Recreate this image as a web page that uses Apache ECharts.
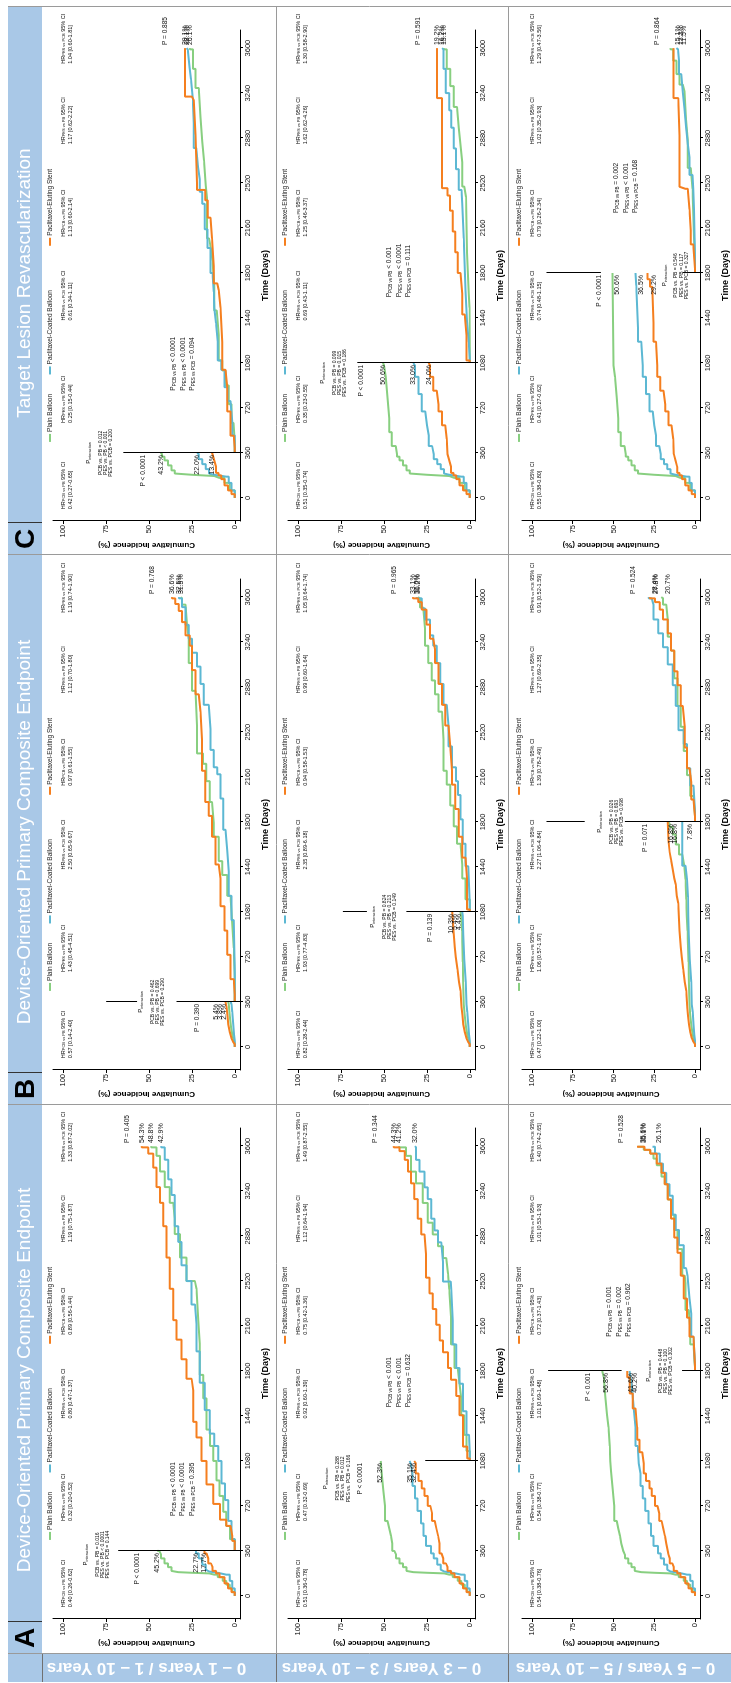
<!DOCTYPE html>
<html><head><meta charset="utf-8">
<script src="https://cdn.jsdelivr.net/npm/echarts@6/dist/echarts.min.js"></script>
<style>
html,body{margin:0;padding:0;background:#fff;overflow:hidden;width:731px;height:1683px;}
#chart{position:absolute;left:0;top:0;width:1683px;height:731px;transform-origin:0 0;transform:translate(0,1683px) rotate(-90deg);}
</style></head><body><div id="chart"></div>
<script>
// ---------------- DATA ----------------
const timeTicks = [0,360,720,1080,1440,1800,2160,2520,2880,3240,3600];
const incidenceTicks = [0,25,50,75,100];
const groups = ['Plain Balloon','Paclitaxel-Coated Balloon','Paclitaxel-Eluting Stent'];
const landmarks = [360,1080,1800];
const rowLabels = ['0 \u2013 1 Years / 1 \u2013 10 Years','0 \u2013 3 Years / 3 \u2013 10 Years','0 \u2013 5 Years / 5 \u2013 10 Years'];
const columnTitles = ['Device-Oriented Primary Composite Endpoint','Device-Oriented Primary Composite Endpoint','Target Lesion Revascularization'];
const panelLetters = ['A','B','C'];
const hrPairs = ['PCB vs PB','PES vs PB','PES vs PCB','PCB vs PB','PES vs PB','PES vs PCB'];
const pairNames = ['PCB vs PB','PES vs PB','PES vs PCB'];

// column A : early period (shared 0-1800)
const A_PB_early  = [[0,0],[30,1.5],[60,3],[90,5],[120,7],[150,10],[170,12],[180,15],[185,25],[190,33],[200,37],[230,39],[260,41],[300,43],[330,44],[360,45.2],[420,46],[480,47],[540,48],[600,49.5],[720,50.5],[850,51.5],[1000,52],[1080,52.3],[1200,53],[1350,54],[1450,55],[1600,56],[1750,56.8],[1800,56.8]];
const A_PCB_early = [[0,0],[60,1.5],[120,3],[170,5],[185,10],[195,15],[210,17],[250,19],[300,21],[340,22.7],[400,25.5],[480,27],[580,28.5],[680,30.5],[780,32],[880,33.5],[980,34.5],[1060,35.1],[1200,36.5],[1350,37.5],[1500,38.5],[1650,39.5],[1750,40.2],[1800,40.2]];
const A_PES_early = [[0,0],[30,2],[60,4],[100,6],[150,9],[180,11],[200,13],[230,14],[260,15.5],[300,16.5],[340,17.7],[420,18.5],[480,19.5],[540,20.5],[600,22],[660,23],[720,24.5],[800,26.5],[860,28],[920,30],[980,31.5],[1060,32.4],[1150,34],[1250,35.5],[1350,36.5],[1500,38.2],[1620,40],[1750,41.6],[1800,41.6]];
// column A : late periods
const A1_PB_late  = [[360,0],[454,2.9],[560,5],[673,6.8],[800,9],[924,10.7],[1080,12.6],[1200,14.5],[1331,16.5],[1581,18.4],[1769,20.4],[2019,21.4],[2207,22.3],[2458,23.3],[2520,28.2],[2708,32],[2896,35],[3021,35.9],[3146,37.9],[3272,40.8],[3397,43.7],[3522,45.6],[3590,48.8],[3600,48.8]];
const A1_PCB_late = [[360,0],[454,1.9],[600,3.8],[767,5.8],[900,7.8],[1080,9.7],[1200,12],[1299,14.6],[1487,17.5],[1706,20.4],[1957,22.3],[2176,23.3],[2332,25.2],[2520,28.2],[2646,31.1],[2833,33],[2959,35],[3209,36.9],[3334,38.8],[3491,40.8],[3590,42.9],[3600,42.9]];
const A1_PES_late = [[360,0],[440,1.5],[480,2.5],[560,5],[610,8.7],[736,12.6],[892,16.5],[1080,19.4],[1268,22.3],[1393,24.3],[1644,25.2],[1738,28.2],[1894,31.1],[2051,34],[2207,35.9],[2458,37.9],[2708,39.8],[2959,41.7],[3146,43.7],[3272,45.6],[3428,47.6],[3540,50.5],[3590,54.3],[3600,54.3]];
const A2_PB_late  = [[1080,0],[1160,2],[1289,3.3],[1446,5],[1580,6],[1698,7],[1824,9],[2013,11],[2233,12],[2453,12.7],[2579,13.7],[2704,15.7],[2799,18.6],[2893,21.6],[2987,24.5],[3145,27.5],[3302,31.4],[3396,34.3],[3522,37.2],[3590,41.2],[3600,41.2]];
const A2_PCB_late = [[1080,0],[1150,0.5],[1289,2],[1478,4],[1698,6],[1824,8],[2013,10],[2201,10.8],[2453,11.2],[2516,15.7],[2673,16.7],[2830,18.6],[2925,20.6],[3019,22.5],[3176,24.5],[3270,26.5],[3396,29.4],[3490,31.4],[3590,32.0],[3600,32.0]];
const A2_PES_late = [[1080,0],[1100,1.5],[1195,4],[1446,6],[1600,8],[1730,11],[1824,12.7],[1950,15.7],[2044,17.6],[2170,19.6],[2296,21.6],[2421,23.5],[2547,25.5],[2736,26.5],[2893,28.4],[3019,30.4],[3176,32.4],[3302,34.3],[3396,36],[3490,38],[3560,41],[3590,44.3],[3600,44.3]];
const A3_PB_late  = [[1800,0],[1830,1],[2013,2.9],[2136,3.9],[2288,5.9],[2502,6.3],[2563,7.8],[2776,10.8],[2929,12.7],[3051,14.7],[3173,16.7],[3295,18.6],[3356,20.6],[3447,23.5],[3500,25.5],[3540,27.5],[3570,31.4],[3595,35.1],[3600,35.1]];
const A3_PCB_late = [[1800,0],[1840,1],[2075,2.4],[2258,3.5],[2380,4.7],[2563,5.5],[2624,6.9],[2807,9.8],[2929,11.8],[3051,13.7],[3203,15.7],[3295,17.6],[3386,19.6],[3460,21.6],[3540,24.5],[3595,26.1],[3600,26.1]];
const A3_PES_late = [[1800,0],[1840,1],[2075,3.5],[2227,4.9],[2380,6.9],[2563,8.8],[2746,10.8],[2868,12.7],[3020,14.7],[3173,16.7],[3295,18.6],[3386,20.6],[3460,23.5],[3540,27.5],[3570,31],[3595,35.6],[3600,35.6]];

// column B : early period
const B_PB_early  = [[0,0],[30,0.8],[60,1.5],[100,2.2],[160,3],[250,3.5],[340,3.8],[480,4.1],[680,4.6],[930,5.1],[1050,5.4],[1180,5.9],[1340,6.6],[1450,7.8],[1540,9.8],[1620,11.8],[1700,13.7],[1760,15.7],[1790,16.8],[1800,16.8]];
const B_PCB_early = [[0,0],[50,0.5],[100,1],[180,1.5],[280,2],[340,2.4],[520,3.3],[700,3.9],[900,4.2],[1050,4.4],[1200,4.9],[1340,5.9],[1450,7.8],[1800,7.8]];
const B_PES_early = [[0,0],[20,1],[40,2],[70,3],[120,3.8],[180,4.3],[250,4.8],[320,5.4],[450,6.3],[520,7.2],[620,8.2],[720,8.8],[800,9.5],[930,10.3],[1150,11.2],[1210,11.8],[1300,12.8],[1350,13.7],[1420,14.7],[1500,15.6],[1560,16.3],[1650,16.8],[1800,16.8]];
// column B : late periods
const B1_PB_late  = [[360,0],[550,0.6],[792,1.6],[1015,2.5],[1209,4.5],[1376,7.4],[1487,9.4],[1682,12.3],[1793,13.3],[1960,14.6],[2127,16.6],[2266,18.5],[2349,22],[2572,23],[2850,25],[3072,26.9],[3267,27.9],[3378,28.8],[3540,30.8],[3590,31.5],[3600,31.5]];
const B1_PCB_late = [[360,0],[600,0.6],[1015,2],[1209,3.5],[1404,4.5],[1571,5.5],[1738,6.8],[1988,8.4],[2182,10.3],[2238,12.3],[2377,14.2],[2544,15.2],[2738,18.1],[2905,20],[3044,22],[3155,25],[3267,26.9],[3378,28.8],[3520,30.8],[3590,32.5],[3600,32.5]];
const B1_PES_late = [[360,0],[420,0.6],[542,2.5],[737,4.5],[931,6],[1126,8.4],[1348,9.4],[1460,11.3],[1682,13.3],[1849,15.2],[1960,17.2],[2210,19.1],[2460,20],[2683,21],[2822,23],[3016,25],[3211,26.3],[3294,28.8],[3400,30.8],[3489,32.7],[3545,34.7],[3590,36.6],[3600,36.6]];
const B2_PB_late  = [[1080,0],[1181,2.6],[1348,4.5],[1460,5.5],[1626,7.5],[1765,9.4],[1932,11.4],[2099,13.4],[2210,15.4],[2460,16.3],[2683,18.3],[2822,20.3],[2933,22.2],[3072,24.2],[3211,26.2],[3350,27.2],[3517,29.1],[3590,30.2],[3600,30.2]];
const B2_PCB_late = [[1080,0],[1150,0.6],[1348,1],[1446,2.6],[1626,4.1],[1821,5.5],[2016,6.9],[2127,8.1],[2238,10.4],[2405,12.4],[2572,13.4],[2738,15.4],[2905,17.3],[3072,19.3],[3211,21.3],[3294,23.2],[3420,26.2],[3510,28.1],[3590,31.0],[3600,31.0]];
const B2_PES_late = [[1080,0],[1100,1.6],[1348,2.6],[1515,4.5],[1682,6.5],[1904,8.5],[2099,10.4],[2210,11.4],[2405,12.4],[2572,14.4],[2738,16.3],[2905,18.3],[3072,20.3],[3183,21.3],[3267,23.2],[3380,25.2],[3500,28.1],[3560,30.1],[3590,33.1],[3600,33.1]];
const B3_PB_late  = [[1800,0],[1850,1],[2008,2.9],[2175,4.9],[2368,6.9],[2562,8.8],[2729,10.8],[2950,12.7],[3172,14.7],[3283,16.7],[3421,17.6],[3540,19.6],[3590,20.7],[3600,20.7]];
const B3_PCB_late = [[1800,0],[1880,1],[2091,2.9],[2230,4.9],[2424,6.9],[2535,10.2],[2729,11.8],[2895,13.7],[3061,16.7],[3199,19.6],[3310,22.5],[3421,25.5],[3540,26.5],[3590,28.4],[3600,28.4]];
const B3_PES_late = [[1800,0],[1842,1],[1980,2.4],[2119,3.5],[2230,4.9],[2396,6.3],[2562,7.5],[2729,8.8],[2895,10.8],[3006,12.7],[3172,14.7],[3310,16.7],[3421,19.6],[3500,21.6],[3560,24.5],[3590,27.8],[3600,27.8]];

// column C : early period
const C_PB_early  = [[0,0],[60,3],[120,6],[160,9],[175,12],[185,25],[195,35],[220,37],[260,39],[300,41],[330,42.5],[350,43.2],[415,45.5],[526,47],[637,48],[803,49],[969,50],[1060,50.6],[1800,50.6]];
const C_PCB_early = [[0,0],[60,2],[120,3.5],[170,5],[185,12],[195,15],[230,17],[270,19],[310,21],[350,22],[415,24],[500,25],[581,26],[692,28],[831,30],[969,32],[1060,33],[1250,35],[1360,36],[1700,36.5],[1800,36.5]];
const C_PES_early = [[0,0],[30,2],[60,4],[100,6],[150,8],[180,9.5],[200,11],[250,12],[300,13],[350,13.4],[471,14.4],[581,16.3],[692,18.3],[748,19.3],[858,21.3],[969,23.2],[1060,24],[1250,25.5],[1400,26.2],[1690,27.6],[1750,29.2],[1800,29.2]];
// column C : late periods
const C1_PB_late  = [[360,0],[450,0.8],[600,2],[750,3.5],[900,5.5],[1020,7.4],[1100,9.4],[1302,10.5],[1500,12],[1700,13],[1900,14],[2000,15],[2077,16.2],[2400,17],[2500,18],[2700,19],[2852,20],[3046,21],[3281,23],[3434,24.4],[3590,26.1],[3600,26.1]];
const C1_PCB_late = [[360,0],[500,1.5],[609,2.5],[775,4.1],[886,6],[1025,8],[1100,10],[1250,11],[1400,12],[1523,12.3],[1650,13],[1800,14.2],[2000,16],[2150,17.5],[2354,19],[2450,20.5],[2550,21.5],[2650,22.5],[2800,24],[3000,24.5],[3200,25.5],[3350,26.5],[3450,27.5],[3590,28.1],[3600,28.1]];
const C1_PES_late = [[360,0],[400,0.6],[498,2.5],[692,4.5],[886,5.5],[1025,7.4],[1246,8.4],[1523,9.4],[1662,10.3],[1717,12.3],[1855,13.3],[2077,14.2],[2243,15.8],[2382,17.2],[2465,22],[2520,23],[2908,24],[3185,25],[3212,29.1],[3600,29.1]];
const C2_PB_late  = [[1080,0],[1200,0.2],[1523,0.6],[1634,1.6],[1966,2.2],[2409,3.3],[2492,4.5],[2686,5.5],[2825,6.5],[2963,7.5],[3129,9.4],[3296,11.4],[3434,13.4],[3590,15.1],[3600,15.1]];
const C2_PCB_late = [[1080,0],[1120,0.6],[1246,1.6],[1412,2.6],[1662,3.5],[2077,4.5],[2354,4.9],[2465,6.5],[2631,8.1],[2797,9.4],[2963,10.8],[3102,12],[3240,14],[3434,15.4],[3590,16.2],[3600,16.2]];
const C2_PES_late = [[1080,0],[1100,2],[1302,3],[1468,4.5],[1634,5.5],[1800,7],[1966,8.5],[2132,10],[2299,11.5],[2420,13],[2479,16.3],[3180,16.3],[3200,19.2],[3600,19.2]];
const C3_PB_late  = [[1800,0],[1900,0.6],[2085,1.6],[2474,2.6],[2641,4.5],[2864,5.5],[3030,6.5],[3253,7.5],[3308,9.5],[3392,11.4],[3500,13.4],[3590,15.1],[3600,15.1]];
const C3_PCB_late = [[1800,0],[1918,0.6],[2308,1.2],[2474,1.6],[2585,3.5],[2725,4.5],[2836,5.5],[2974,6.5],[3114,7.5],[3253,8.5],[3392,9.8],[3500,10.4],[3590,11.5],[3600,11.5]];
const C3_PES_late = [[1800,0],[1835,1.2],[2029,2.6],[2141,3.5],[2308,4.5],[2474,6],[2490,9.5],[2900,10.3],[3200,13.3],[3600,13.3]];

// printed percentages (order: PB, PCB, PES)
const A_landmarkPct = [[45.2,22.7,17.7],[52.3,35.1,32.4],[56.8,40.2,41.6]];
const A_endPct      = [[48.8,42.9,54.3],[41.2,32.0,44.3],[35.1,26.1,35.6]];
const B_landmarkPct = [[3.8,2.4,5.4],[5.4,4.4,10.3],[16.8,7.8,16.8]];
const B_endPct      = [[31.5,32.5,36.6],[30.2,31.0,33.1],[20.7,28.4,27.8]];
const C_landmarkPct = [[43.2,22.0,13.4],[50.6,33.0,24.0],[50.6,36.5,29.2]];
const C_endPct      = [[26.1,28.1,29.1],[15.1,16.2,19.2],[15.1,11.5,13.3]];

// p-values
const A_pLandmark = ['P < 0.0001','P < 0.0001','P < 0.001'];
const B_pLandmark = ['P = 0.390','P = 0.139','P = 0.071'];
const C_pLandmark = ['P < 0.0001','P < 0.0001','P < 0.0001'];
const A_pEnd = ['P = 0.405','P = 0.344','P = 0.528'];
const B_pEnd = ['P = 0.768','P = 0.965','P = 0.524'];
const C_pEnd = ['P = 0.885','P = 0.591','P = 0.864'];
const A_pairP = [['< 0.0001','< 0.0001','= 0.395'],['< 0.001','< 0.001','= 0.632'],['= 0.001','= 0.002','= 0.962']];
const C_pairP = [['< 0.0001','< 0.0001','= 0.094'],['< 0.001','< 0.0001','= 0.111'],['= 0.002','< 0.001','= 0.168']];
const A_interaction = [['PCB vs. PB = 0.016','PES vs. PB < 0.0001','PES vs. PCB = 0.144'],['PCB vs. PB = 0.288','PES vs. PB = 0.012','PES vs. PCB = 0.166'],['PCB vs. PB = 0.448','PES vs. PB = 0.100','PES vs. PCB = 0.302']];
const B_interaction = [['PCB vs. PB = 0.462','PES vs. PB = 0.699','PES vs. PCB = 0.290'],['PCB vs. PB = 0.824','PES vs. PB = 0.213','PES vs. PCB = 0.149'],['PCB vs. PB = 0.026','PES vs. PB = 0.693','PES vs. PCB = 0.098']];
const C_interaction = [['PCB vs. PB = 0.012','PES vs. PB < 0.001','PES vs. PCB = 0.200'],['PCB vs. PB = 0.099','PES vs. PB = 0.015','PES vs. PCB = 0.186'],['PCB vs. PB = 0.546','PES vs. PB = 0.117','PES vs. PCB = 0.327']];
// hazard ratios
const A_hr = [['0.40 [0.26-0.62]','0.32 [0.20-0.52]','0.80 [0.47-1.37]','0.89 [0.56-1.44]','1.19 [0.75-1.87]','1.33 [0.87-2.02]'],
              ['0.51 [0.36-0.78]','0.47 [0.32-0.69]','0.92 [0.60-1.39]','0.75 [0.42-1.36]','1.12 [0.64-1.94]','1.49 [0.87-2.55]'],
              ['0.54 [0.38-0.76]','0.54 [0.38-0.77]','1.01 [0.69-1.48]','0.72 [0.37-1.43]','1.01 [0.53-1.93]','1.40 [0.74-2.65]']];
const B_hr = [['0.57 [0.14-2.40]','1.43 [0.45-4.51]','2.50 [0.65-9.67]','0.97 [0.61-1.55]','1.12 [0.70-1.80]','1.19 [0.74-1.90]'],
              ['0.82 [0.28-2.44]','1.93 [0.77-4.83]','2.35 [0.89-6.18]','0.94 [0.58-1.53]','0.99 [0.60-1.64]','1.05 [0.64-1.74]'],
              ['0.47 [0.22-1.00]','1.06 [0.57-1.97]','2.27 [1.06-4.84]','1.39 [0.78-2.49]','1.27 [0.69-2.35]','0.91 [0.52-1.59]']];
const C_hr = [['0.42 [0.27-0.65]','0.25 [0.15-0.44]','0.61 [0.34-1.11]','1.13 [0.60-2.14]','1.17 [0.62-2.22]','1.04 [0.60-1.81]'],
              ['0.51 [0.35-0.74]','0.35 [0.23-0.55]','0.69 [0.43-1.11]','1.25 [0.46-3.37]','1.62 [0.62-4.26]','1.30 [0.58-2.90]'],
              ['0.55 [0.38-0.80]','0.41 [0.27-0.62]','0.74 [0.48-1.15]','0.79 [0.26-2.34]','1.02 [0.35-2.93]','1.29 [0.47-3.56]']];

// ---------------- LAYOUT / STYLE ----------------
const FONT = '"Liberation Sans", Arial, Helvetica, sans-serif';
const COLORS = ['#88cf80','#5cb8d3','#f57f1f'];
const BAR = '#a9c8e7';
const XMIN = -185, XMAX = 3745, YMIN = -3, YMAX = 106;
const colLeft = [64,613,1162], rowTop = [53,288,522], GW = 491, GH = 187;
const hrLeftT = [-90,600,1420,2090,2830,3475];
const legendT = [480,1020,2050];
const pintPos = [[[330,87],[940,84],[1800,32.4]],[[360,55],[1040,56.7],[1800,60.8]],[[360,85.4],[1000,86],[1780,23.2]]];
const lmSegs = [[[[68,-3]],[[26,-3]],[[90,45],[8,-3]]],[[[75,57],[34,-3]],[[74,60],[37,-3]],[[91,67.6],[43,-3]]],[[[65,-3]],[[65.6,-3]],[[91,57.7],[7.5,-3]]]];
const pLmV = [[57,63.7,67.6],[22,23.2,34.3],[53.2,63.6,61]];
const pEndV = [[63,55,48],[48,43.9,41.2],[40.5,30,27]];
const pairPos = [[[640,36],[1509,47],[2075,54.9]],null,[[858,35.7],[1606,46.9],[2280,50.8]]];

const columns = [
  {early:[A_PB_early,A_PCB_early,A_PES_early], late:[[A1_PB_late,A1_PCB_late,A1_PES_late],[A2_PB_late,A2_PCB_late,A2_PES_late],[A3_PB_late,A3_PCB_late,A3_PES_late]],
   lm:A_landmarkPct, end:A_endPct, pLm:A_pLandmark, pEnd:A_pEnd, pair:A_pairP, inter:A_interaction, hr:A_hr},
  {early:[B_PB_early,B_PCB_early,B_PES_early], late:[[B1_PB_late,B1_PCB_late,B1_PES_late],[B2_PB_late,B2_PCB_late,B2_PES_late],[B3_PB_late,B3_PCB_late,B3_PES_late]],
   lm:B_landmarkPct, end:B_endPct, pLm:B_pLandmark, pEnd:B_pEnd, pair:null, inter:B_interaction, hr:B_hr},
  {early:[C_PB_early,C_PCB_early,C_PES_early], late:[[C1_PB_late,C1_PCB_late,C1_PES_late],[C2_PB_late,C2_PCB_late,C2_PES_late],[C3_PB_late,C3_PCB_late,C3_PES_late]],
   lm:C_landmarkPct, end:C_endPct, pLm:C_pLandmark, pEnd:C_pEnd, pair:C_pairP, inter:C_interaction, hr:C_hr}
];

function px(c,t){ return colLeft[c] + (t - XMIN) / (XMAX - XMIN) * GW; }
function py(r,v){ return rowTop[r] + (YMAX - v) / (YMAX - YMIN) * GH; }
function upTo(arr, L, endVal){ const o = arr.filter(p => p[0] < L).map(p => p.slice()); o.push([L, endVal]); return o; }
function repel(vals){ const idx=[0,1,2].sort((a,b)=>vals[a]-vals[b]); const out=[]; let prev=-1e9; idx.forEach(i=>{ const v=Math.max(vals[i],6.5,prev+2.3); out[i]=v; prev=v; }); return out; }

const option = {animation:false, backgroundColor:'#ffffff', grid:[], xAxis:[], yAxis:[], series:[], graphic:[]};
const G = option.graphic;
function txt(x,y,text,o){ o=o||{}; G.push({type:'text', silent:true, z:100, x:x, y:y, rotation:o.rot||0,
  style:{text:text, fill:o.color||'#111', fontSize:o.size||7, fontFamily:FONT, fontWeight:o.weight||'normal',
  align:o.align||'left', verticalAlign:o.valign||'middle', rich:o.rich}}); }
function ln(x1,y1,x2,y2,color,w,z){ G.push({type:'line', silent:true, z:z||90, shape:{x1:x1,y1:y1,x2:x2,y2:y2}, style:{stroke:color, lineWidth:w||1}}); }
function rc(x,y,w,h,fill){ G.push({type:'rect', silent:true, z:1, shape:{x:x,y:y,width:w,height:h}, style:{fill:fill}}); }
function sub(base, small){ return {a:{fontSize:base, fontFamily:FONT, fill:'#111'}, s:{fontSize:small, fontFamily:FONT, fill:'#111', padding:[Math.round(base*0.45),0,0,0]}}; }
const plainNum = v => String(v);

// frame, header and row strips
rc(1,8,1675,34,BAR);
rc(1,8,28,723,BAR);
[29,578,1128].forEach(x => ln(x+0.5,8,x+0.5,731,'#9a9a9a',1));
ln(1676.5,8,1676.5,731,'#9a9a9a',1);
[276,508].forEach(y => { ln(1,y+0.5,1676,y+0.5,'#9a9a9a',1); ln(1,y+0.5,29,y+0.5,'#707070',1,95); });
ln(1,42.5,29,42.5,'#707070',1);
[61,610,1160].forEach(x => ln(x+0.5,8,x+0.5,42,'#333',1));
const letterX = [45,594,1144];
const titleX = [303,851,1400];
for (let c=0;c<3;c++){
  txt(letterX[c],26,panelLetters[c],{size:28,weight:'bold',color:'#000',align:'center'});
  txt(titleX[c],25,columnTitles[c],{size:19,color:'#ffffff',align:'center'});
}
for (let r=0;r<3;r++){
  txt(15, rowTop[r]+GH/2, rowLabels[r], {size:17, weight:'bold', color:'#ffffff', align:'center', rot:Math.PI/2});
}

// panels
for (let c=0;c<3;c++){
  const col = columns[c];
  for (let r=0;r<3;r++){
    const i = c*3 + r, L = landmarks[r];
    option.grid.push({left:colLeft[c], top:rowTop[r], width:GW, height:GH});
    option.xAxis.push({type:'value', gridIndex:i, min:XMIN, max:XMAX,
      axisLine:{show:true,onZero:false,lineStyle:{color:'#000',width:1}},
      axisTick:{show:true,length:3,customValues:timeTicks,lineStyle:{color:'#000'}},
      axisLabel:{show:true,customValues:timeTicks,formatter:plainNum,fontSize:7.5,color:'#111',margin:4,fontFamily:FONT},
      splitLine:{show:false}, name:'Time (Days)', nameLocation:'middle', nameGap:21,
      nameTextStyle:{fontWeight:'bold',fontSize:9,color:'#000',fontFamily:FONT}});
    option.yAxis.push({type:'value', gridIndex:i, min:YMIN, max:YMAX,
      axisLine:{show:true,onZero:false,lineStyle:{color:'#000',width:1}},
      axisTick:{show:true,length:3,customValues:incidenceTicks,lineStyle:{color:'#000'}},
      axisLabel:{show:true,customValues:incidenceTicks,formatter:plainNum,fontSize:7.5,color:'#111',margin:4,fontFamily:FONT},
      splitLine:{show:false}, name:'Cumulative Incidence (%)', nameLocation:'middle', nameGap:18,
      nameTextStyle:{fontWeight:'bold',fontSize:8,color:'#000',fontFamily:FONT}});
    for (let g=0; g<3; g++){
      const s1 = {type:'line', name:groups[g], xAxisIndex:i, yAxisIndex:i, step:'end', showSymbol:false, symbol:'none', silent:true, z:2+g,
        data: upTo(col.early[g], L, col.lm[r][g]), lineStyle:{color:COLORS[g], width:2}, itemStyle:{color:COLORS[g]}};
      if (g===0){
        s1.markLine = {silent:true, symbol:['none','none'], label:{show:false}, lineStyle:{color:'#000',width:1,type:'solid'},
          data: lmSegs[c][r].map(s => [{coord:[L,s[0]]},{coord:[L,s[1]]}])};
      }
      option.series.push(s1);
      option.series.push({type:'line', name:groups[g], xAxisIndex:i, yAxisIndex:i, step:'end', showSymbol:false, symbol:'none', silent:true, z:2+g,
        data: col.late[r][g], lineStyle:{color:COLORS[g], width:2}, itemStyle:{color:COLORS[g]}});
    }
    const top = rowTop[r];
    // legend
    for (let g=0; g<3; g++){
      const x = px(c, legendT[g]);
      ln(x-4, top-3, x+4, top-3, COLORS[g], 2);
      txt(x+6, top-3, groups[g], {size:6.5, color:'#222'});
    }
    // hazard ratios
    for (let k=0;k<6;k++){
      const x = px(c, hrLeftT[k]);
      txt(x, top+10, '{a|HR}{s|'+hrPairs[k]+'}{a| 95% CI}', {rich:sub(5.5,4)});
      txt(x, top+17.5, col.hr[r][k], {size:5.5});
    }
    // landmark p and percentages
    const xl = px(c, L);
    txt(xl-2, py(r, pLmV[c][r]), col.pLm[r], {size:6.5, align:'right'});
    const lmv = repel(col.lm[r]);
    for (let g=0; g<3; g++) txt(xl-2, py(r, lmv[g]), col.lm[r][g].toFixed(1)+'%', {size:7, align:'right'});
    // interaction block
    const pp = pintPos[c][r];
    const xi = px(c, pp[0]), yi = py(r, pp[1]);
    txt(xi, yi, '{a|P}{s|interaction}', {align:'center', rich:sub(6,3.8)});
    for (let k=0;k<3;k++) txt(xi, yi+12+k*5.2, col.inter[r][k], {size:5, align:'center'});
    // pairwise p-values
    if (col.pair){
      const q = pairPos[c][r];
      for (let k=0;k<3;k++) txt(px(c,q[0]), py(r,q[1])+k*9.5, '{a|P}{s|'+pairNames[k]+'}{a| '+col.pair[r][k]+'}', {rich:sub(6.5,4.5)});
    }
    // end labels
    const xe = px(c, 3600) + 3;
    txt(xe, py(r, pEndV[c][r]), col.pEnd[r], {size:6.5});
    for (let g=0; g<3; g++) txt(xe, py(r, col.end[r][g]), col.end[r][g].toFixed(1)+'%', {size:7});
  }
}

const chart = echarts.init(document.getElementById('chart'), null, {renderer:'canvas', width:1683, height:731});
chart.setOption(option);
</script></body></html>
